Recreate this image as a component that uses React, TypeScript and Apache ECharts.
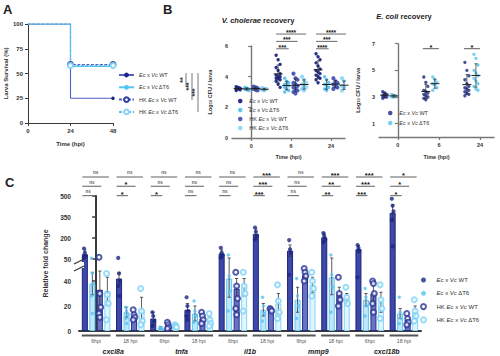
import React, { useEffect, useRef } from "react";
import * as echarts from "echarts";

const FONT = "'Liberation Sans', Arial, Helvetica, sans-serif";
const NAVY = "#1c2584";
const NAVY_LINE = "#5262c4";
const LIGHT = "#55c4f1";
const HK_NAVY = "#2f3b9e";
const HK_LIGHT = "#86d4f6";
const AXIS = "#3a3a3a";

// ---------- legend labels ----------
const legendRich = [
  "{i|Ec} x {i|Vc} WT",
  "{i|Ec} x {i|Vc} ΔT6",
  "HK {i|Ec} x {i|Vc} WT",
  "HK {i|Ec} x {i|Vc} ΔT6",
];

// ---------- Panel A: survival ----------
const survTimes = [0, 24, 48];
const survEcWT = [100, 25, 25];
const survEcDT6 = [100, 57, 57];
const survHKWT = [100, 59, 59];
const survHKDT6 = [100, 58, 58];
const survSig = ["**", "***", "***"];

// ---------- Panel B: recovery ----------
const recoveryTimes = ["0", "6", "24"];
const vcEcWT = [
  [3.35, 3.3, 3.25, 3.2, 3.2, 3.15, 3.1],
  [5.4, 5.1, 4.8, 4.6, 4.4, 4.2, 4.1, 4.0, 4.0, 3.9, 3.9, 3.8, 3.7, 3.5, 3.3],
  [5.5, 5.3, 5.1, 4.9, 4.7, 4.5, 4.4, 4.3, 4.2, 4.1, 4.0, 3.9, 3.8, 3.6],
];
const vcEcDT6 = [
  [3.3, 3.25, 3.2, 3.2, 3.15, 3.1],
  [3.9, 3.7, 3.6, 3.5, 3.5, 3.4, 3.3, 3.2, 3.1, 3.0],
  [4.0, 3.8, 3.6, 3.5, 3.4, 3.3, 3.2, 3.1],
];
const vcHKWT = [
  [3.35, 3.3, 3.25, 3.2, 3.15, 3.1],
  [4.2, 3.9, 3.8, 3.6, 3.5, 3.4, 3.3, 3.2, 3.1, 3.0, 2.9],
  [3.9, 3.7, 3.6, 3.5, 3.4, 3.3, 3.2],
];
const vcHKDT6 = [
  [3.25, 3.2, 3.2, 3.15, 3.1],
  [4.0, 3.8, 3.6, 3.5, 3.4, 3.3, 3.2, 3.1],
  [3.9, 3.7, 3.5, 3.4, 3.3, 3.2, 3.1],
];
// brackets: [time index, compared group]
const vcSigPairs = [
  [1, 3], [1, 2], [1, 1],
  [2, 3], [2, 2], [2, 1],
];
const vcSigLabels = ["****", "***", "***", "****", "***", "****"];

const ecEcWT = [
  [3.4, 3.3, 3.2, 3.1, 3.0, 3.0, 2.9, 3.2],
  [4.5, 4.1, 3.8, 3.5, 3.4, 3.3, 3.2, 3.1, 3.0, 2.9, 2.8],
  [5.6, 5.0, 4.6, 4.3, 4.0, 3.8, 3.7, 3.6, 3.5, 3.4, 3.3, 3.2, 3.1],
];
const ecEcDT6 = [
  [3.2, 3.1, 3.1, 3.0, 3.0],
  [4.5, 4.3, 4.1, 4.0, 3.9, 3.7, 3.5],
  [6.2, 5.9, 5.4, 5.0, 4.8, 4.6, 4.4, 4.2, 4.0, 3.8, 3.6, 3.5],
];
const ecSigTimes = [1, 2];
const ecSigLabels = ["*", "*"];

// ---------- Panel C: relative fold change ----------
const cCategories = ["6hpi", "18 hpi", "6hpi", "18 hpi", "6hpi", "18 hpi", "6hpi", "18 hpi", "6hpi", "18 hpi"];
const cGenes = ["cxcl8a", "tnfa", "il1b", "mmp9", "cxcl18b"];
const cYTicks = [0, 20, 40, 50, 200, 350, 500];

const cEcWTMean = [85, 42, 10, 17, 90, 230, 110, 205, 120, 380];
const cEcWTErr = [30, 5, 5, 5, 25, 35, 40, 30, 25, 60];
const cEcWTPts = [[125, 95, 70, 60], [58, 46, 40, 36, 28], [15, 12, 8, 4], [27, 20, 16, 12, 9], [130, 95, 75, 60], [275, 245, 215, 190], [185, 120, 95, 45], [235, 215, 190, 170], [150, 130, 110, 43], [480, 430, 390, 330, 140]];
const cEcDT6Mean = [38, 15, 2.5, 14, 42, 17, 25, 43, 25, 14];
const cEcDT6Err = [9, 4, 1, 6, 15, 5, 10, 14, 5, 4];
const cEcDT6Pts = [[55, 46, 38, 28, 14], [19, 16, 13, 10, 6], [3, 2.5, 2], [24, 16, 12, 7], [78, 44, 32, 16], [27, 20, 14, 8], [42, 28, 20, 10], [79, 45, 35, 15], [34, 27, 20, 12], [27, 15, 10, 6]];
const cHKWTMean = [33, 12, 4.5, 10, 34, 16, 45, 29, 30, 9];
const cHKWTErr = [15, 3, 2, 3, 8, 1, 3, 6, 8, 2];
const cHKWTPts = [[62, 30, 19, 14, 11], [17, 13, 11, 9], [7, 5, 3, 2], [15, 12, 9, 6], [47, 36, 26, 18, 13], [18, 17, 16], [50, 47, 44, 40], [43, 30, 25, 20], [40, 38, 30, 22, 15], [14, 10, 7, 5]];
const cHKDT6Mean = [32, 17, 4, 8, 35, 22, 37, 26, 23, 15];
const cHKDT6Err = [11, 10, 2, 3, 7, 8, 6, 4, 8, 5];
const cHKDT6Pts = [[46, 29, 22, 9], [34, 16, 8, 5], [5, 4, 3], [14, 9, 6, 4], [47, 36, 30, 16], [37, 24, 15, 10], [47, 40, 34, 28], [35, 27, 22], [37, 25, 18, 10], [25, 16, 12, 8]];
const cSigTop = ["ns", "ns", "ns", "ns", "ns", "***", "ns", "***", "***", "*"];
const cSigMid = ["ns", "*", "ns", "ns", "ns", "***", "ns", "**", "***", "*"];
const cSigLow = ["ns", "*", "*", "ns", "ns", "***", "ns", "**", "***", "*"];

// ---------- layout helpers ----------
const VC_OFF = [-0.325, -0.11, 0.11, 0.325];
const EC_OFF = [-0.32, -0.1];
const VC_PX = 40;
const EC_PX = 41;
const SLOT = 7.5 / 34.2;
// broken y axis of panel C: 0-50 linear, then compressed 50-500
const BREAK_D = 57.6;
const HIGH_SCALE = 0.112;
const toD = (v: number) => (v <= 50 ? v : BREAK_D + (v - 50) * HIGH_SCALE);
const C_MAX = toD(500);
const cTickD = cYTicks.map((v, i) => (i === 3 ? BREAK_D : toD(v)));

const mean = (a: number[]) => a.reduce((s, v) => s + v, 0) / a.length;
const sd = (a: number[]) => {
  const m = mean(a);
  return Math.sqrt(a.reduce((s, v) => s + (v - m) * (v - m), 0) / Math.max(1, a.length - 1));
};

const spread = (groups: number[][], off: number, px: number) => {
  const out: number[][] = [];
  groups.forEach((vals, t) => {
    vals.forEach((v, k) => out.push([t + off + (((k % 3) - 1) * 2.0) / px, v]));
  });
  return out;
};
const summary = (groups: number[][], off: number) =>
  groups.map((vals, t) => [t + off, mean(vals), sd(vals)]);

const meanSdRender = (halfPx: number) => (params: any, api: any) => {
  const x = api.value(0);
  const m = api.value(1);
  const s = api.value(2);
  const c = api.coord([x, m]);
  const hi = api.coord([x, m + s]);
  const lo = api.coord([x, m - s]);
  const st = { stroke: "#2a2a2a", lineWidth: 0.7 };
  return {
    type: "group",
    children: [
      { type: "line", shape: { x1: c[0], y1: hi[1], x2: c[0], y2: lo[1] }, style: st },
      { type: "line", shape: { x1: c[0] - 1.5, y1: hi[1], x2: c[0] + 1.5, y2: hi[1] }, style: st },
      { type: "line", shape: { x1: c[0] - 1.5, y1: lo[1], x2: c[0] + 1.5, y2: lo[1] }, style: st },
      { type: "line", shape: { x1: c[0] - halfPx, y1: c[1], x2: c[0] + halfPx, y2: c[1] }, style: { stroke: "#1e1e1e", lineWidth: 1 } },
    ],
  };
};

const sigText = (x: number, y: number, label: string, starSize: number) => {
  const ns = label === "ns";
  return {
    type: "text",
    x,
    y: ns ? y - 4.2 : y - 1.6,
    style: {
      text: label,
      align: "center",
      verticalAlign: "middle",
      lineHeight: 3.5,
      fontSize: ns ? 4.6 : starSize,
      fontWeight: "bold",
      fontFamily: FONT,
      fill: ns ? "#666" : "#111",
    },
  };
};

const legendFormatter = (name: string) => legendRich[Number(name.split(":")[1])];
const legendText = (fs: number, lh: number) => ({
  fontSize: fs,
  lineHeight: lh,
  color: "#333",
  fontFamily: FONT,
  rich: { i: { fontStyle: "italic", fontSize: fs, color: "#333", fontFamily: FONT } },
});

const labelStyle = (fs: number, margin: number) => ({
  fontSize: fs,
  fontWeight: "bold",
  color: "#333",
  fontFamily: FONT,
  margin,
});
const nameStyle = (fs: number) => ({ fontSize: fs, fontWeight: "bold", color: "#333", fontFamily: FONT });

function buildOption() {
  // ----- Panel A series -----
  const survSeries = [survEcWT, survEcDT6, survHKWT, survHKDT6].map((vals, s) => {
    const hk = s >= 2;
    const color = s % 2 === 0 ? (hk ? HK_NAVY : NAVY) : hk ? HK_LIGHT : LIGHT;
    const lineColor = s % 2 === 0 ? NAVY_LINE : LIGHT;
    return {
      name: "A:" + s,
      type: "line",
      xAxisIndex: 0,
      yAxisIndex: 0,
      step: "end",
      symbol: hk ? "emptyCircle" : "circle",
      symbolSize: hk ? 5 : 3.5,
      showSymbol: true,
      lineStyle: { color: lineColor, width: 1.1, type: hk ? [3, 1.5] : "solid" },
      itemStyle: { color, borderColor: color, borderWidth: hk ? 1.5 : 0 },
      data: survTimes.map((t, i) => {
        const show = hk ? i > 0 : i === survTimes.length - 1;
        return show ? { value: [t, vals[i]] } : { value: [t, vals[i]], symbol: "none" };
      }),
      z: 3 + (hk ? 1 : 0),
    };
  });

  // ----- Panel B series -----
  const vcGroups = [vcEcWT, vcEcDT6, vcHKWT, vcHKDT6];
  const vcStyles = [
    { color: NAVY, size: 3.4 },
    { color: LIGHT, size: 3.4 },
    { color: "#4654b6", size: 4.2 },
    { color: "#8fd6f7", size: 4.2 },
  ];
  const vcScatter = vcGroups.map((g, s) => ({
    name: "B:" + s,
    type: "scatter",
    xAxisIndex: 1,
    yAxisIndex: 1,
    symbol: "circle",
    symbolSize: vcStyles[s].size,
    itemStyle: { color: vcStyles[s].color, opacity: 0.95 },
    data: spread(g, VC_OFF[s], VC_PX),
  }));
  const vcSummary = {
    type: "custom",
    xAxisIndex: 1,
    yAxisIndex: 1,
    renderItem: meanSdRender(4.5),
    data: vcGroups.flatMap((g, s) => summary(g, VC_OFF[s])),
    z: 5,
  };
  const vcLevels = [6.78, 6.3, 5.82];
  const vcBrackets = {
    type: "custom",
    xAxisIndex: 1,
    yAxisIndex: 1,
    clip: false,
    data: vcSigPairs.map((p, i) => [p[0], p[1], i % 3]),
    renderItem: (params: any, api: any) => {
      const t = api.value(0);
      const to = api.value(1);
      const lvl = api.value(2);
      const y = api.coord([t, vcLevels[lvl]])[1];
      const x1 = api.coord([t + VC_OFF[0], 0])[0] - 2;
      const x2 = api.coord([t + VC_OFF[to], 0])[0] + 2;
      return {
        type: "group",
        children: [
          { type: "line", shape: { x1, y1: y, x2, y2: y }, style: { stroke: "#777", lineWidth: 1.1 } },
          sigText((x1 + x2) / 2, y, vcSigLabels[params.dataIndex], 6.5),
        ],
      };
    },
  };

  const ecGroups = [ecEcWT, ecEcDT6];
  const ecScatter = ecGroups.map((g, s) => ({
    name: "E:" + s,
    type: "scatter",
    xAxisIndex: 2,
    yAxisIndex: 2,
    symbol: "circle",
    symbolSize: 3.4,
    itemStyle: { color: s === 0 ? NAVY : LIGHT },
    data: spread(g, EC_OFF[s], EC_PX),
  }));
  const ecSummary = {
    type: "custom",
    xAxisIndex: 2,
    yAxisIndex: 2,
    renderItem: meanSdRender(4.5),
    data: ecGroups.flatMap((g, s) => summary(g, EC_OFF[s])),
    z: 5,
  };
  const ecBrackets = {
    type: "custom",
    xAxisIndex: 2,
    yAxisIndex: 2,
    clip: false,
    data: ecSigTimes.map((t) => [t, 0]),
    renderItem: (params: any, api: any) => {
      const t = api.value(0);
      const y = api.coord([t, 6.63])[1];
      const x1 = api.coord([t + EC_OFF[0], 0])[0] - 3;
      const x2 = api.coord([t + EC_OFF[1], 0])[0] + 4;
      return {
        type: "group",
        children: [
          { type: "line", shape: { x1, y1: y, x2, y2: y }, style: { stroke: "#777", lineWidth: 1.2 } },
          sigText((x1 + x2) / 2, y, ecSigLabels[params.dataIndex], 7.5),
        ],
      };
    },
  };

  // ----- Panel C series -----
  const cMeans = [cEcWTMean, cEcDT6Mean, cHKWTMean, cHKDT6Mean];
  const cErrs = [cEcWTErr, cEcDT6Err, cHKWTErr, cHKDT6Err];
  const cPts = [cEcWTPts, cEcDT6Pts, cHKWTPts, cHKDT6Pts];
  const barFill = ["#3d49aa", "#bfe8fb", "#6a73c3", "#e0f5fe"];
  const barBorder = ["#1b247a", "#5fc6f2", "#25308f", "#86d5f6"];
  const cBars = cMeans.map((m, s) => ({
    type: "bar",
    xAxisIndex: 3,
    yAxisIndex: 3,
    barWidth: 6,
    barGap: "25%",
    itemStyle: { color: barFill[s], borderColor: barBorder[s], borderWidth: 1 },
    data: m.map((v) => toD(v)),
  }));
  const cErrData: number[][] = [];
  cMeans.forEach((m, s) =>
    m.forEach((v, i) => cErrData.push([i + (s - 1.5) * SLOT, toD(Math.max(0, v - cErrs[s][i])), toD(v + cErrs[s][i])]))
  );
  const cErrSeries = {
    type: "custom",
    xAxisIndex: 4,
    yAxisIndex: 3,
    data: cErrData,
    z: 4,
    renderItem: (params: any, api: any) => {
      const x = api.value(0);
      const lo = api.coord([x, api.value(1)]);
      const hi = api.coord([x, api.value(2)]);
      const st = { stroke: "#333", lineWidth: 0.8 };
      return {
        type: "group",
        children: [
          { type: "line", shape: { x1: lo[0], y1: lo[1], x2: hi[0], y2: hi[1] }, style: st },
          { type: "line", shape: { x1: hi[0] - 1.6, y1: hi[1], x2: hi[0] + 1.6, y2: hi[1] }, style: st },
          { type: "line", shape: { x1: lo[0] - 1.6, y1: lo[1], x2: lo[0] + 1.6, y2: lo[1] }, style: st },
        ],
      };
    },
  };
  const cPtStyles = [
    { symbol: "circle", size: 4.2, itemStyle: { color: NAVY } },
    { symbol: "circle", size: 3.4, itemStyle: { color: LIGHT } },
    { symbol: "emptyCircle", size: 5, itemStyle: { color: "#2a3596", borderWidth: 1.6 } },
    { symbol: "emptyCircle", size: 5, itemStyle: { color: "#7fd3f7", borderWidth: 1.6 } },
  ];
  const cScatter = cPts.map((groups, s) => {
    const data: number[][] = [];
    groups.forEach((vals, i) =>
      vals.forEach((v, k) => data.push([i + (s - 1.5) * SLOT + ((k % 3) - 1) * 0.025, toD(v)]))
    );
    return {
      name: "C:" + s,
      type: "scatter",
      xAxisIndex: 4,
      yAxisIndex: 3,
      symbol: cPtStyles[s].symbol,
      symbolSize: cPtStyles[s].size,
      itemStyle: cPtStyles[s].itemStyle,
      data,
      z: 6,
    };
  });
  const cUnderline = {
    type: "custom",
    xAxisIndex: 4,
    yAxisIndex: 3,
    clip: false,
    data: cCategories.map((_, i) => [i, 0]),
    renderItem: (params: any, api: any) => {
      const i = api.value(0);
      const l = api.coord([i - 0.42, 0]);
      const r = api.coord([i + 0.42, 0]);
      return {
        type: "line",
        shape: { x1: l[0], y1: l[1] + 4.5, x2: r[0], y2: r[1] + 4.5 },
        style: { stroke: "#555", lineWidth: 2 },
      };
    },
  };
  const cBracketData: number[][] = [];
  const cBracketLabels: string[] = [];
  cCategories.forEach((_, i) => {
    [cSigTop, cSigMid, cSigLow].forEach((arr, lvl) => {
      cBracketData.push([i, 3 - lvl, lvl]);
      cBracketLabels.push(arr[i]);
    });
  });
  const cBrackets = {
    type: "custom",
    xAxisIndex: 4,
    yAxisIndex: 3,
    clip: false,
    data: cBracketData,
    renderItem: (params: any, api: any) => {
      const i = api.value(0);
      const to = api.value(1);
      const lvl = api.value(2);
      const top = api.coord([i, C_MAX])[1];
      const y = top - 19 + lvl * 9.3;
      const x1 = api.coord([i - 1.5 * SLOT, 0])[0] - 2.5;
      const x2 = api.coord([i + (to - 1.5) * SLOT, 0])[0] + 1.5;
      return {
        type: "group",
        children: [
          { type: "line", shape: { x1, y1: y, x2, y2: y }, style: { stroke: "#7a7a7a", lineWidth: 1.2 } },
          sigText((x1 + x2) / 2, y, cBracketLabels[params.dataIndex], 7.5),
        ],
      };
    },
  };

  // ----- graphics (panel letters, titles, annotations) -----
  const graphic: any[] = [
    { type: "text", x: 3, y: 3, style: { text: "A", fontSize: 13, fontWeight: "bold", fontFamily: FONT, fill: "#222" } },
    { type: "text", x: 163, y: 3, style: { text: "B", fontSize: 13, fontWeight: "bold", fontFamily: FONT, fill: "#222" } },
    { type: "text", x: 5, y: 176, style: { text: "C", fontSize: 13, fontWeight: "bold", fontFamily: FONT, fill: "#222" } },
    {
      type: "text",
      x: 258,
      y: 20,
      style: {
        text: "{i|V. cholerae} recovery",
        align: "center",
        verticalAlign: "middle",
        fontSize: 7.5,
        fontWeight: "bold",
        fontFamily: FONT,
        fill: "#222",
        rich: { i: { fontStyle: "italic", fontWeight: "bold", fontSize: 7.5, fontFamily: FONT, fill: "#222" } },
      },
    },
    {
      type: "text",
      x: 404,
      y: 16,
      style: {
        text: "{i|E. coli} recovery",
        align: "center",
        verticalAlign: "middle",
        fontSize: 7.5,
        fontWeight: "bold",
        fontFamily: FONT,
        fill: "#222",
        rich: { i: { fontStyle: "italic", fontWeight: "bold", fontSize: 7.5, fontFamily: FONT, fill: "#222" } },
      },
    },
    // axis break marks on panel C
    { type: "rect", shape: { x: 74, y: 262, width: 10, height: 6 }, style: { fill: "#fff" }, z: 100 },
    { type: "line", shape: { x1: 74, y1: 264, x2: 84, y2: 259 }, style: { stroke: AXIS, lineWidth: 1.3 }, z: 101 },
    { type: "line", shape: { x1: 74, y1: 271, x2: 84, y2: 266 }, style: { stroke: AXIS, lineWidth: 1.3 }, z: 101 },
  ];
  // panel A significance brackets beside the legend
  const bx = [186, 192, 198];
  const bEnd = [87, 100, 112];
  survSig.forEach((lab, k) => {
    graphic.push({ type: "line", shape: { x1: bx[k], y1: 73, x2: bx[k], y2: bEnd[k] }, style: { stroke: "#555", lineWidth: 0.8 } });
    graphic.push({
      type: "text",
      x: bx[k] - 3.2,
      y: (73 + bEnd[k]) / 2,
      rotation: Math.PI / 2,
      style: { text: lab, align: "center", verticalAlign: "middle", lineHeight: 4, fontSize: 7, fontWeight: "bold", fontFamily: FONT, fill: "#222" },
    });
  });

  const thinAxis = (w: number) => ({
    axisLine: { show: true, lineStyle: { color: AXIS, width: w } },
    axisTick: { show: true, length: 3, lineStyle: { color: AXIS, width: w } },
    splitLine: { show: false },
  });
  const grayAxis = {
    axisLine: { show: true, lineStyle: { color: "#777", width: 1.4 } },
    splitLine: { show: false },
  };

  return {
    animation: false,
    backgroundColor: "#fff",
    textStyle: { fontFamily: FONT },
    grid: [
      { left: 28, top: 24, width: 85, height: 99 },
      { left: 232, top: 46, width: 113, height: 92 },
      { left: 379, top: 43.7, width: 115, height: 93.3 },
      { left: 79, top: 196, width: 342, height: 135 },
    ],
    xAxis: [
      {
        gridIndex: 0,
        type: "value",
        min: 0,
        max: 48,
        interval: 24,
        ...thinAxis(1),
        axisLabel: labelStyle(6, 5),
        name: "Time (hpi)",
        nameLocation: "middle",
        nameGap: 18,
        nameTextStyle: nameStyle(6),
      },
      {
        gridIndex: 1,
        type: "value",
        min: -0.48,
        max: 2.35,
        ...grayAxis,
        axisTick: { show: true, length: 3, customValues: [0, 1, 2], lineStyle: { color: "#777", width: 1.2 } },
        axisLabel: { ...labelStyle(5.5, 5), customValues: [0, 1, 2], formatter: (v: number) => recoveryTimes[Math.round(v)] },
        name: "Time (hpi)",
        nameLocation: "middle",
        nameGap: 16,
        nameTextStyle: nameStyle(5.5),
      },
      {
        gridIndex: 2,
        type: "value",
        min: -0.46,
        max: 2.34,
        ...grayAxis,
        axisTick: { show: true, length: 3, customValues: [0, 1, 2], lineStyle: { color: "#777", width: 1.2 } },
        axisLabel: { ...labelStyle(5.5, 5), customValues: [0, 1, 2], formatter: (v: number) => recoveryTimes[Math.round(v)] },
        name: "Time (hpi)",
        nameLocation: "middle",
        nameGap: 17,
        nameTextStyle: nameStyle(5.5),
      },
      {
        gridIndex: 3,
        type: "category",
        position: "bottom",
        data: cCategories,
        axisLine: { show: true, lineStyle: { color: AXIS, width: 2 } },
        axisTick: { show: false },
        axisLabel: { fontSize: 5.2, color: "#555", fontFamily: FONT, margin: 7, interval: 0 },
        splitLine: { show: false },
      },
      { gridIndex: 3, type: "value", min: -0.5, max: 9.5, show: false },
      {
        gridIndex: 3,
        type: "category",
        position: "bottom",
        data: cGenes,
        axisLine: { show: false },
        axisTick: { show: false },
        axisLabel: { fontSize: 7, fontWeight: "bold", fontStyle: "italic", color: "#222", fontFamily: FONT, margin: 17, interval: 0 },
        splitLine: { show: false },
      },
    ],
    yAxis: [
      {
        gridIndex: 0,
        type: "value",
        min: 0,
        max: 100,
        interval: 25,
        ...thinAxis(1),
        axisLabel: labelStyle(6, 5),
        name: "Larva Survival (%)",
        nameLocation: "middle",
        nameGap: 14,
        nameTextStyle: nameStyle(6),
      },
      {
        gridIndex: 1,
        type: "value",
        min: 0,
        max: 6,
        interval: 2,
        ...grayAxis,
        axisTick: { show: true, length: 3, lineStyle: { color: "#777", width: 1.2 } },
        axisLabel: labelStyle(5.5, 4),
        name: "Log{s|10} CFU / larva",
        nameLocation: "middle",
        nameGap: 19,
        nameTextStyle: { ...nameStyle(5.5), rich: { s: { fontSize: 4, fontWeight: "bold", color: "#333", fontFamily: FONT } } },
      },
      {
        gridIndex: 2,
        type: "value",
        min: 0,
        max: 7,
        ...grayAxis,
        axisTick: { show: true, length: 3, customValues: [1, 3, 5, 7], lineStyle: { color: "#777", width: 1.2 } },
        axisLabel: { ...labelStyle(5.5, 4), customValues: [1, 3, 5, 7] },
        name: "Log{s|10} CFU / larva",
        nameLocation: "middle",
        nameGap: 18,
        nameTextStyle: { ...nameStyle(5.5), rich: { s: { fontSize: 4, fontWeight: "bold", color: "#333", fontFamily: FONT } } },
      },
      {
        gridIndex: 3,
        type: "value",
        min: 0,
        max: C_MAX,
        axisLine: { show: true, lineStyle: { color: AXIS, width: 2 } },
        axisTick: { show: true, length: 4, customValues: cTickD, lineStyle: { color: AXIS, width: 1.5 } },
        axisLabel: {
          ...labelStyle(6.5, 8),
          customValues: cTickD,
          formatter: (v: number) => {
            const idx = cTickD.findIndex((d) => Math.abs(d - v) < 0.01);
            return idx >= 0 ? String(cYTicks[idx]) : "";
          },
        },
        splitLine: { show: false },
        name: "Relative fold change",
        nameLocation: "middle",
        nameGap: 27,
        nameTextStyle: nameStyle(7),
      },
    ],
    legend: [
      {
        data: ["A:0", "A:1", "A:2", "A:3"],
        left: 118,
        top: 71.5,
        padding: 0,
        orient: "vertical",
        itemWidth: 15,
        itemHeight: 6,
        itemGap: 5.3,
        selectedMode: false,
        formatter: legendFormatter,
        textStyle: legendText(5.5, 7),
      },
      {
        data: ["B:0", "B:1", "B:2", "B:3"],
        left: 238,
        top: 97.5,
        padding: 0,
        orient: "vertical",
        itemWidth: 8,
        itemHeight: 4.5,
        itemGap: 2,
        selectedMode: false,
        formatter: legendFormatter,
        textStyle: legendText(5.5, 7),
      },
      {
        data: ["E:0", "E:1"],
        left: 388,
        top: 109.5,
        padding: 0,
        orient: "vertical",
        itemWidth: 8,
        itemHeight: 4.5,
        itemGap: 3,
        selectedMode: false,
        formatter: legendFormatter,
        textStyle: legendText(5.5, 7),
      },
      {
        data: ["C:0", "C:1", "C:2", "C:3"],
        left: 420,
        top: 276,
        padding: 0,
        orient: "vertical",
        itemWidth: 16,
        itemHeight: 5,
        itemGap: 5.3,
        selectedMode: false,
        formatter: legendFormatter,
        textStyle: legendText(6, 8),
      },
    ],
    graphic,
    series: [
      ...survSeries,
      ...vcScatter,
      vcSummary,
      vcBrackets,
      ...ecScatter,
      ecSummary,
      ecBrackets,
      ...cBars,
      cErrSeries,
      ...cScatter,
      cUnderline,
      cBrackets,
    ],
  };
}

export default function App() {
  const ref = useRef<HTMLDivElement>(null);
  useEffect(() => {
    if (!ref.current) return;
    const chart = echarts.init(ref.current, null, { renderer: "svg" });
    chart.setOption(buildOption() as any);
    return () => chart.dispose();
  }, []);
  return (
    <div
      ref={ref}
      style={{ position: "fixed", left: 0, top: 0, width: 500, height: 356, background: "#fff" }}
    />
  );
}
